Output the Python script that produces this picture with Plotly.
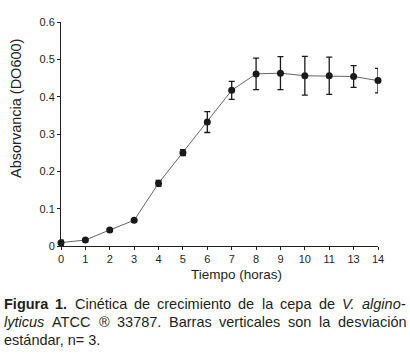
import plotly.graph_objects as go

# Data
hour_labels = ["0", "1", "2", "3", "4", "5", "6", "7", "8", "9", "10", "11", "13", "14"]
absorbance = [0.009, 0.016, 0.043, 0.069, 0.168, 0.250, 0.332, 0.417, 0.461, 0.463, 0.456, 0.456, 0.454, 0.443]
std_dev = [0.007, 0.003, 0.003, 0.003, 0.008, 0.008, 0.028, 0.024, 0.042, 0.044, 0.052, 0.050, 0.029, 0.033]
y_ticks = [0, 0.1, 0.2, 0.3, 0.4, 0.5, 0.6]
y_tick_text = ["0", "0.1", "0.2", "0.3", "0.4", "0.5", "0.6"]

positions = list(range(len(hour_labels)))

FONT = "Liberation Sans, Arial, sans-serif"
TXT = "#231f20"

fig = go.Figure()
fig.add_trace(go.Scatter(
    x=positions, y=absorbance,
    mode="lines+markers",
    line=dict(color="#666666", width=1),
    marker=dict(color="#1a1a1a", size=7),
    error_y=dict(type="data", array=std_dev, visible=True,
                 color="#1a1a1a", thickness=1.3, width=3),
    cliponaxis=False,
    showlegend=False,
))

W, H = 410, 354
L, R, T, B = 61, 32, 22, 108
pw, ph = W - L - R, H - T - B


def px(xp):
    return (xp - L) / pw


def py(yp):
    return (H - B - yp) / ph


fig.update_layout(
    width=W, height=H,
    margin=dict(l=L, r=R, t=T, b=B),
    paper_bgcolor="white", plot_bgcolor="white",
    font=dict(family=FONT, color=TXT, size=11),
    xaxis=dict(
        range=[0, len(hour_labels) - 1],
        tickmode="array", tickvals=positions, ticktext=hour_labels,
        showline=True, linecolor="#231f20", linewidth=1,
        ticks="outside", ticklen=3, tickcolor="#231f20", tickwidth=1,
        showgrid=False, zeroline=False,
        tickfont=dict(size=11, color=TXT),
    ),
    yaxis=dict(
        range=[0, 0.6],
        tickmode="array", tickvals=y_ticks, ticktext=y_tick_text,
        showline=True, linecolor="#231f20", linewidth=1,
        ticks="outside", ticklen=3, tickcolor="#231f20", tickwidth=1,
        showgrid=False, zeroline=False,
        tickfont=dict(size=11, color=TXT),
    ),
)

annotations = [
    dict(text="Absorvancia (DO600)", textangle=-90, x=px(16), y=py(109),
         xref="paper", yref="paper", xanchor="center", yanchor="middle",
         showarrow=False, font=dict(size=14.5, color=TXT, family=FONT)),
    dict(text="Tiempo (horas)", x=px(236), y=py(274),
         xref="paper", yref="paper", xanchor="center", yanchor="middle",
         showarrow=False, font=dict(size=13.5, color=TXT, family=FONT)),
]

# ---- justified caption (Arial / Liberation Sans advance widths, 1/1000 em)
REG = {' ': 278, 'a': 556, 'b': 556, 'c': 500, 'd': 556, 'e': 556, 'f': 278, 'g': 556,
       'h': 556, 'i': 222, 'j': 222, 'k': 500, 'l': 222, 'm': 833, 'n': 556, 'o': 556,
       'p': 556, 'q': 556, 'r': 333, 's': 500, 't': 278, 'u': 556, 'v': 500, 'w': 722,
       'x': 500, 'y': 500, 'z': 500, 'A': 667, 'B': 667, 'C': 722, 'T': 611, 'V': 667,
       'F': 611, '0': 556, '1': 556, '2': 556, '3': 556, '4': 556, '5': 556, '6': 556,
       '7': 556, '8': 556, '9': 556, '.': 278, ',': 278, '-': 333, '®': 737, '=': 584,
       'á': 556, 'é': 556, 'ó': 556}
BOLD = dict(REG)
BOLD.update({'F': 611, 'i': 278, 'g': 611, 'u': 611, 'r': 389, 'a': 556, '1': 556, '.': 278})

CAP_SIZE = 14.5


def word_width(word, style):
    table = BOLD if style == "b" else REG
    return sum(table.get(ch, 556) for ch in word) * CAP_SIZE / 1000.0


caption_lines = [
    ([("Figura", "b"), ("1.", "b"), ("Cinética", ""), ("de", ""), ("crecimiento", ""),
      ("de", ""), ("la", ""), ("cepa", ""), ("de", ""), ("V.", "i"), ("algino-", "i")], 304),
    ([("lyticus", "i"), ("ATCC", ""), ("®", ""), ("33787.", ""), ("Barras", ""),
      ("verticales", ""), ("son", ""), ("la", ""), ("desviación", "")], 322),
]
X0, X1 = 3, 405
for words, yc in caption_lines:
    widths = [word_width(w, s) for w, s in words]
    gap = (X1 - X0 - sum(widths)) / (len(words) - 1)
    xcur = X0
    for (w, s), wd in zip(words, widths):
        txt = f"<b>{w}</b>" if s == "b" else (f"<i>{w}</i>" if s == "i" else w)
        annotations.append(dict(
            text=txt, x=px(xcur), y=py(yc), xref="paper", yref="paper",
            xanchor="left", yanchor="middle", showarrow=False, borderpad=0,
            font=dict(size=CAP_SIZE, color=TXT, family=FONT)))
        xcur += wd + gap

annotations.append(dict(
    text="estándar, n= 3.", x=px(X0), y=py(340), xref="paper", yref="paper",
    xanchor="left", yanchor="middle", showarrow=False, borderpad=0,
    font=dict(size=CAP_SIZE, color=TXT, family=FONT)))

fig.update_layout(annotations=annotations)

fig.write_html("out.html",
               config={"displayModeBar": False},
               post_script="document.body.style.margin='0';document.body.style.overflow='hidden';")
